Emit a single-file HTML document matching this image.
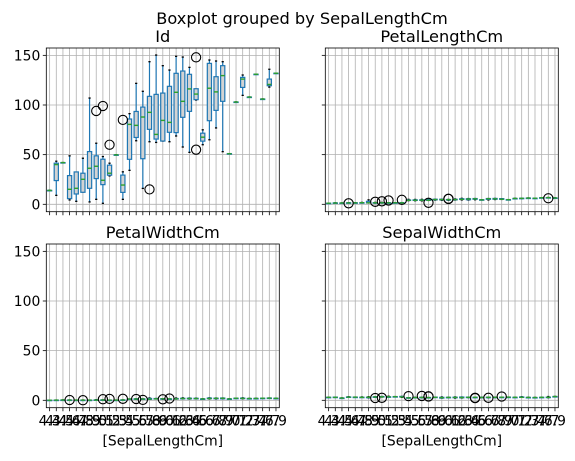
<!DOCTYPE html>
<html><head><meta charset="utf-8"><style>
html,body{margin:0;padding:0;background:#fff;}
svg{display:block;font-family:"DejaVu Sans","Liberation Sans",sans-serif;}
</style></head><body>
<svg id="chart" width="575" height="461" viewBox="0 0 575 461">
<text x="302" y="24" font-size="16.2" text-anchor="middle">Boxplot grouped by SepalLengthCm</text>
</svg>
<script>
const categories=["4.3","4.4","4.5","4.6","4.7","4.8","4.9","5.0","5.1","5.2","5.3","5.4","5.5","5.6","5.7","5.8","5.9","6.0","6.1","6.2","6.3","6.4","6.5","6.6","6.7","6.8","6.9","7.0","7.1","7.2","7.3","7.4","7.6","7.7","7.9"];
const yTicks=[0,50,100,150];
// Id
const idLo=[14,9,42,4.4,3,12.4,2.4,5,1,28.6,49.8,5,34.2,64,16,63,62.3,63.7,63,68.8,57.7,52.3,105,60,65,76.9,53,51,103,109.7,108,131,106,118,132];
const idQ1=[14,23.9,42,5.7,10.4,12.1,16.1,25.9,19.8,29.3,49.8,12,45.3,67.3,45.9,75.5,65.7,63.7,72.5,72.2,87.6,93.6,105.4,63.6,84.2,94.6,103.7,51,103,117.7,108,131,106,119.4,132];
const idMed=[14,40,42,15.1,16.1,25.2,36.3,38.3,24.2,31.3,49.8,19.4,80.5,79.5,87.9,92.6,70.4,84.5,82.5,112.8,103.7,116.2,111,67.6,116.9,113.2,129.6,51,103,126.1,108,131,106,120.7,132];
const idQ3=[14,41.4,42,28.9,32.6,31.3,53.1,48.8,45.4,39.4,49.8,29.4,85.9,93.5,97.9,108.7,110.7,112,118.8,131.9,134.2,130.9,116.4,71.6,141.9,128.5,139.6,51,103,127.8,108,131,106,126.1,132];
const idHi=[14,43.4,42,48.8,30.6,46.4,107,61.5,48.1,41.4,49.8,32.7,91.3,121.8,113.8,143.6,150.3,139.6,135.2,149,148.3,137.9,116,75,145.3,144.3,143.6,51,103,130.2,108,131,106,136,132];
const idFlierCat=[8,9,10,12,16,23,23];
const idFlierVal=[94,99,60,85,15,148,55];
// PetalLengthCm
const plLo=[1.1,1.3,1.3,1.4,1.3,1.4,1.4,1.2,1.3,1.4,1.5,1.3,3.7,3.6,3.5,3.9,4.2,4.0,4.0,4.3,4.4,4.3,4.6,4.4,4.4,4.8,4.9,4.7,5.9,5.8,6.3,6.1,6.6,6.7,6.4];
const plQ1=[1.1,1.3,1.3,1.4,1.4,1.5,1.4,1.4,1.4,1.4,1.5,1.5,3.9,3.9,4.1,4.0,4.5,4.5,4.5,4.5,4.9,4.6,5.1,4.4,5.0,5.1,5.1,4.7,5.9,5.9,6.3,6.1,6.6,6.7,6.4];
const plMed=[1.1,1.3,1.3,1.4,1.45,1.6,1.5,1.5,1.5,1.5,1.5,1.5,4.0,4.1,4.2,4.1,4.8,4.75,4.7,4.8,5.0,5.3,5.5,4.5,5.6,5.5,5.1,4.7,5.9,6.0,6.3,6.1,6.6,6.7,6.4];
const plQ3=[1.1,1.4,1.3,1.5,1.5,1.6,3.0,1.6,1.7,1.5,1.5,1.7,4.4,4.5,4.5,5.1,5.1,5.1,4.8,5.0,5.6,5.6,5.8,4.6,5.8,5.9,5.7,4.7,5.9,6.1,6.3,6.1,6.6,6.75,6.4];
const plHi=[1.1,1.4,1.3,1.5,1.6,1.9,4.5,1.9,1.9,1.5,1.5,1.7,5.0,4.9,5.0,5.1,5.1,5.1,4.9,5.4,6.0,5.8,5.8,4.6,5.8,5.9,5.7,4.7,5.9,6.1,6.3,6.1,6.6,6.9,6.4];
const plFlierCat=[4,8,9,10,12,16,19,19,34];
const plFlierVal=[1.0,2.5,3.0,3.9,4.5,1.5,5.4,5.6,6.1];
// PetalWidthCm
const pwLo=[0.1,0.2,0.3,0.2,0.2,0.1,0.1,0.2,0.2,0.1,0.2,0.2,1.0,1.0,1.0,1.0,1.5,1.0,1.2,1.3,1.5,1.3,1.5,1.3,1.4,1.4,1.5,1.4,2.1,1.6,1.8,1.9,2.1,2.0,2.0];
const pwQ1=[0.1,0.2,0.3,0.2,0.2,0.2,0.1,0.2,0.2,0.1,0.2,0.2,1.2,1.2,1.2,1.0,1.5,1.4,1.3,1.5,1.8,1.5,1.8,1.3,1.7,1.8,1.5,1.4,2.1,1.8,1.8,1.9,2.1,2.1,2.0];
const pwMed=[0.1,0.2,0.3,0.2,0.2,0.2,0.2,0.2,0.3,0.2,0.2,0.3,1.3,1.3,1.3,1.2,1.5,1.5,1.4,1.5,1.8,1.8,1.8,1.4,1.8,2.0,2.0,1.4,2.1,1.9,1.8,1.9,2.1,2.2,2.0];
const pwQ3=[0.1,0.2,0.3,0.3,0.2,0.2,0.2,0.4,0.4,0.2,0.2,0.4,1.3,1.5,1.4,1.9,1.8,1.6,1.4,1.8,2.0,2.1,2.0,1.4,2.3,2.1,2.3,1.4,2.1,2.2,1.8,1.9,2.1,2.3,2.0];
const pwHi=[0.1,0.2,0.3,0.3,0.2,0.3,0.2,0.6,0.4,0.2,0.2,0.4,1.3,1.5,1.4,2.4,1.8,1.6,1.4,2.3,2.5,2.3,2.2,1.4,2.5,2.3,2.3,1.4,2.1,2.5,1.8,1.9,2.1,2.3,2.0];
const pwFlierCat=[4,6,9,10,12,14,15,18,19];
const pwFlierVal=[0.3,0.1,1.1,1.4,1.5,1.3,0.4,1.0,1.8];
// SepalWidthCm
const swLo=[3.0,2.9,2.3,3.1,3.2,3.0,2.4,3.0,3.3,3.4,3.7,3.0,2.3,2.5,2.5,2.6,3.0,2.2,2.6,2.2,2.3,2.7,2.8,2.9,2.5,2.8,3.1,3.2,3.0,3.0,2.9,2.8,3.0,2.6,3.8];
const swQ1=[3.0,2.9,2.3,3.1,3.2,3.0,2.9,3.2,3.4,3.4,3.7,3.4,2.4,2.7,2.8,2.7,3.0,2.2,2.8,2.8,2.5,2.8,3.0,2.9,3.0,2.9,3.1,3.2,3.0,3.0,2.9,2.8,3.0,2.8,3.8];
const swMed=[3.0,3.0,2.3,3.2,3.2,3.0,3.1,3.4,3.5,3.5,3.7,3.4,2.5,2.8,2.9,2.7,3.0,2.7,2.9,2.9,2.8,3.0,3.0,2.9,3.0,3.0,3.1,3.2,3.0,3.0,2.9,2.8,3.0,3.0,3.8];
const swQ3=[3.0,3.2,2.3,3.4,3.2,3.1,3.1,3.5,3.8,3.5,3.7,3.9,2.6,2.9,3.0,2.8,3.2,3.0,3.0,3.1,3.3,3.2,3.0,3.0,3.1,3.1,3.1,3.2,3.0,3.4,2.9,2.8,3.0,3.2,3.8];
const swHi=[3.0,3.2,2.3,3.6,3.2,3.4,3.6,3.6,3.8,4.1,3.7,3.9,2.6,3.0,3.0,2.8,3.2,3.4,3.0,3.4,3.3,3.2,3.0,3.0,3.1,3.2,3.1,3.2,3.0,3.6,2.9,2.8,3.0,3.8,3.8];
const swFlierCat=[8,9,13,15,16,16,23,23,25,27];
const swFlierVal=[2.3,2.5,4.2,4.4,3.8,4.0,2.2,2.5,2.5,3.8];

const NS="http://www.w3.org/2000/svg";
const svg=document.getElementById("chart");
function mk(tag,attrs,parent){const e=document.createElementNS(NS,tag);for(const k in attrs)e.setAttribute(k,attrs[k]);(parent||svg).appendChild(e);return e;}
const Y0=-7.45,Y1=157.4;
const panels=[
 {name:"id",title:"Id",x0:46.3,y0:48,lo:idLo,q1:idQ1,med:idMed,q3:idQ3,hi:idHi,fc:idFlierCat,fv:idFlierVal,yl:true,xl:false},
 {name:"petal-length",title:"PetalLengthCm",x0:325.3,y0:48,lo:plLo,q1:plQ1,med:plMed,q3:plQ3,hi:plHi,fc:plFlierCat,fv:plFlierVal,yl:false,xl:false},
 {name:"petal-width",title:"PetalWidthCm",x0:46.3,y0:244,lo:pwLo,q1:pwQ1,med:pwMed,q3:pwQ3,hi:pwHi,fc:pwFlierCat,fv:pwFlierVal,yl:true,xl:true},
 {name:"sepal-width",title:"SepalWidthCm",x0:325.3,y0:244,lo:swLo,q1:swQ1,med:swMed,q3:swQ3,hi:swHi,fc:swFlierCat,fv:swFlierVal,yl:false,xl:true}
];
const W=233,H=163.7,n=categories.length;
panels.forEach(p=>{
 const g=mk("g",{});
 
 
 const xs=k=>p.x0+(k-0.5)*W/n;
 const ys=v=>p.y0+H-(v-Y0)/(Y1-Y0)*H;
 for(let k=1;k<=n;k++){const l=mk("line",{x1:xs(k),x2:xs(k),y1:p.y0,y2:p.y0+H,stroke:"#b0b0b0","stroke-width":0.8},g);
  }
 yTicks.forEach(t=>{const l=mk("line",{x1:p.x0,x2:p.x0+W,y1:ys(t),y2:ys(t),stroke:"#b0b0b0","stroke-width":0.8},g);
  
  const tk=mk("line",{x1:p.x0-3.5,x2:p.x0,y1:ys(t),y2:ys(t),stroke:"#000","stroke-width":0.8},g);
  
  if(p.yl){const tx=mk("text",{x:p.x0-6,y:ys(t)+5,"font-size":13.9,"text-anchor":"end"},g);tx.textContent=t;
   }
 });
 const bw=2.1, cw=1.1;
 for(let i=0;i<n;i++){
  const cx=xs(i+1);
  const b=mk("g",{},g);
  
  
  mk("line",{x1:cx,x2:cx,y1:ys(p.lo[i]),y2:ys(p.q1[i]),stroke:"#1f77b4","stroke-width":1.2},b);
  mk("line",{x1:cx,x2:cx,y1:ys(p.q3[i]),y2:ys(p.hi[i]),stroke:"#1f77b4","stroke-width":1.2},b);
  mk("line",{x1:cx-cw,x2:cx+cw,y1:ys(p.lo[i]),y2:ys(p.lo[i]),stroke:"#000","stroke-width":1.3},b);
  mk("line",{x1:cx-cw,x2:cx+cw,y1:ys(p.hi[i]),y2:ys(p.hi[i]),stroke:"#000","stroke-width":1.3},b);
  const top=ys(p.q3[i]),bot=ys(p.q1[i]);
  mk("rect",{x:cx-bw,y:top,width:bw*2,height:Math.max(bot-top,0.5),fill:"#d3d3d3",stroke:"#1f77b4","stroke-width":1.2},b);
  mk("line",{x1:cx-bw,x2:cx+bw,y1:ys(p.med[i]),y2:ys(p.med[i]),stroke:"#2ca02c","stroke-width":1.4},b);
 }
 for(let j=0;j<p.fc.length;j++){
  const c=mk("circle",{cx:xs(p.fc[j]),cy:ys(p.fv[j]),r:4.6,fill:"none",stroke:"#000","stroke-width":1.1},g);
  
 }
 for(let k=1;k<=n;k++){
  const tk=mk("line",{x1:xs(k),x2:xs(k),y1:p.y0+H,y2:p.y0+H+3.5,stroke:"#000","stroke-width":0.8},g);
  
  if(p.xl){const tx=mk("text",{x:xs(k),y:p.y0+H+18,"font-size":13.9,"text-anchor":"middle"},g);tx.textContent=categories[k-1];
   }
 }
 const fr=mk("rect",{x:p.x0,y:p.y0,width:W,height:H,fill:"none",stroke:"#000","stroke-width":0.8},g);
 
 const tt=mk("text",{x:p.x0+W/2,y:p.y0-6,"font-size":16.2,"text-anchor":"middle"},g);tt.textContent=p.title;
 
 if(p.xl){const xl=mk("text",{x:p.x0+W/2,y:p.y0+H+38,"font-size":13.9,"text-anchor":"middle"},g);xl.textContent="[SepalLengthCm]";
  }
});
</script>
</body></html>
